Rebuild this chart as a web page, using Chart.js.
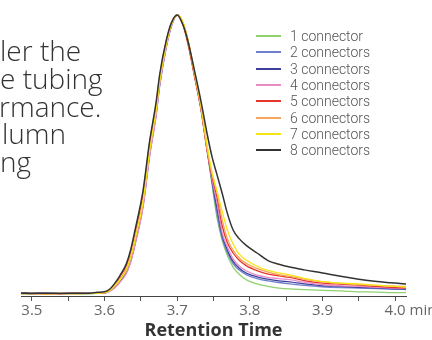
<!DOCTYPE html>
<html><head><meta charset="utf-8">
<script src="https://cdn.jsdelivr.net/npm/chart.js@4"></script>
<style>
html,body{margin:0;padding:0;background:#fff;}
#wrap{position:relative;width:432px;height:340px;overflow:hidden;background:#fff;}
canvas{position:absolute;left:0;top:0;}
#para{position:absolute;left:0;top:37px;font-family:'Open Sans',Roboto,sans-serif;font-weight:300;font-size:28px;line-height:27.8px;color:#333;white-space:pre;}
#legend{position:absolute;left:256px;top:28px;font-family:Roboto,'Liberation Sans',sans-serif;font-weight:300;font-size:14px;color:#555;}
.row{height:16.3px;display:flex;align-items:center;white-space:nowrap;}
.sw{width:25px;height:2px;margin-right:9px;flex:none;}
</style>
</head><body>
<div id="wrap">
<canvas id="c" width="432" height="340"></canvas>
<div id="para"></div>
<div id="legend"></div>
</div>
<script>
// ---- data ----
const paragraphLines = ['ler the', 'e tubing', 'rmance.', 'lumn', 'ng'];
const paragraphIndent = [0, 0, -1, 2, 0];

const seriesNames = ['1 connector','2 connectors','3 connectors','4 connectors','5 connectors','6 connectors','7 connectors','8 connectors'];
const seriesColors = ['#8fd26e','#6f80cc','#3e3f9c','#e88bc6','#e8352b','#f8a55e','#f5e514','#333333'];

const tickValues = [3.5, 3.55, 3.6, 3.65, 3.7, 3.75, 3.8, 3.85, 3.9, 3.95, 4.0];
const tickLabels = ['3.5', '', '3.6', '', '3.7', '', '3.8', '', '3.9', '', '4.0'];
const axisTitle = 'Retention Time';
const axisUnit = 'min';

const times = [3.485,3.50,3.52,3.54,3.56,3.58,3.59,3.60,3.607,3.614,3.621,3.63,3.636,3.642,3.653,3.662,3.671,3.676,3.685,3.692,3.70,3.708,3.715,3.724,3.733,3.741,3.748,3.755,3.762,3.769,3.777,3.785,3.795,3.81,3.825,3.84,3.855,3.875,3.90,3.925,3.95,3.975,4.00,4.015];

const conn1 = [0.7,0.8,0.7,0.8,0.7,0.8,0.9,1.1, 2.0,3.7,5.8,9.5,14,20.5,34,52,66.5,76.5,89.5,96.5,100,96.8,90,78,66,52, 39.5,27.5,19.7,14.5,10.3,7.8,5.8,4.3,3.4,2.8,2.5,2.3,2.0,1.8,1.5,1.4,1.2,1.2];
const conn2 = [1.0,1.0,0.9,0.9,0.9,1.0,1.0,1.1, 1.7,3.0,5.0,8.2,12.3,18.5,32,50,64.5,75,88.5,96,100,97,90.5,78.5,66.5,52.5, 40.5,29,20.5,15.5,11.5,9.3,7.6,6.2,5.4,4.8,4.3,3.8,3.3,3.0,2.8,2.6,2.4,2.3];
const conn3 = [1.1,1.0,1.0,0.9,1.0,0.9,1.0,1.1, 1.8,3.2,5.2,8.5,12.6,19,32.5,50.5,65,75.5,89,96.2,100,97,90.5,78.5,66.5,52.5, 41,31,21.5,16.5,12.3,10,8.2,6.8,6.0,5.4,5.0,4.3,3.7,3.4,3.1,2.9,2.6,2.5];
const conn4 = [0.8,0.9,0.8,0.8,0.8,0.9,0.9,1.0, 1.6,2.9,4.8,8.0,12.0,18.2,31.5,49.5,64,75,88.5,96,100,97.2,91,79,67,53, 41.5,33,22.5,17.5,13.2,10.8,9.0,7.4,6.6,6.2,5.8,4.9,4.0,3.6,3.4,3.1,2.8,2.7];
const conn5 = [0.9,0.9,0.8,0.9,0.9,0.9,1.0,1.3, 2.3,4.3,6.8,10.8,15.5,22.5,36,54,68,78,90.5,97,100,96.3,89.5,78,66,52, 42.5,35,25,19,15.3,12.8,10.8,9.0,7.8,7.2,6.6,5.5,4.6,4.2,3.9,3.4,3.0,2.8];
const conn6 = [0.9,0.8,0.9,0.8,0.9,0.9,1.1,1.3, 2.1,3.9,6.0,9.8,14.3,21,34.5,52.5,67,77,90,96.7,100,97,90.5,78.5,66.5,52.5, 43.5,36.5,27,20.5,16.3,13.6,11.6,9.8,8.5,7.6,7.0,6.0,5.0,4.5,4.1,3.8,3.5,3.4];
const conn7 = [0.8,0.9,0.8,0.9,0.8,0.9,1.0,1.2, 1.9,3.6,5.6,9.2,13.6,20,33.5,51.5,66,76.5,89.5,96.5,100,97.5,91,79.5,67.5,54, 44,37,30,23.5,18.5,15,12.8,10.6,9.1,8.2,7.5,6.3,5.1,4.6,4.3,3.8,3.4,3.2];
const conn8 = [1.0,0.9,1.0,0.9,1.0,1.0,1.3,1.5, 2.4,4.5,7.2,11.5,16.5,23.5,37.5,55,69,79,91,97.2,100,96.5,90.5,80,69,58, 49.5,43,36.5,29.5,23.5,20.5,18,15.3,12.6,11.3,10.3,9.3,8.2,7.0,6.0,5.2,4.6,4.3];

const seriesValues = [conn1, conn2, conn3, conn4, conn5, conn6, conn7, conn8];

// ---- paragraph & legend (HTML text) ----
const para = document.getElementById('para');
paragraphLines.forEach((t, i) => {
  const d = document.createElement('div');
  d.textContent = t;
  d.style.marginLeft = paragraphIndent[i] + 'px';
  para.appendChild(d);
});
const legend = document.getElementById('legend');
seriesNames.forEach((n, i) => {
  const r = document.createElement('div'); r.className = 'row';
  const s = document.createElement('div'); s.className = 'sw'; s.style.background = seriesColors[i];
  const t = document.createElement('span'); t.textContent = n;
  r.appendChild(s); r.appendChild(t); legend.appendChild(r);
});

// ---- chart ----
const TICK_LEN = 5, TICK_PAD = 1, TICK_SIZE = 15;
const FONT = '"Open Sans", Roboto, sans-serif';
const unitPlugin = {
  id: 'unit',
  afterDraw(chart) {
    const s = chart.scales.x, c = chart.ctx;
    c.save();
    c.font = '400 ' + TICK_SIZE + 'px ' + FONT;
    c.fillStyle = '#666';
    c.textBaseline = 'middle';
    c.textAlign = 'left';
    const last = tickValues[tickValues.length - 1];
    const x = s.getPixelForValue(last) + c.measureText(tickLabels[tickLabels.length - 1]).width / 2 + c.measureText(' ').width;
    c.fillText(axisUnit, x, s.top + TICK_LEN + TICK_PAD + TICK_SIZE * 1.2 / 2);
    c.restore();
  }
};

new Chart(document.getElementById('c'), {
  type: 'line',
  data: {
    datasets: seriesValues.map((vals, i) => ({
      label: seriesNames[i],
      data: times.map((t, k) => ({ x: t, y: vals[k] })),
      borderColor: seriesColors[i],
      backgroundColor: seriesColors[i],
      borderWidth: i === 7 ? 1.5 : 1.3,
      pointRadius: 0,
      fill: false,
      cubicInterpolationMode: 'monotone',
      order: 8 - i,
      clip: false
    }))
  },
  options: {
    responsive: false,
    animation: false,
    devicePixelRatio: 1,
    layout: { padding: { left: 21, right: 26, top: 15, bottom: 0 } },
    plugins: { legend: { display: false }, tooltip: { enabled: false } },
    scales: {
      x: {
        type: 'linear', min: 3.485, max: 4.015,
        afterBuildTicks: s => { s.ticks = tickValues.map(v => ({ value: v })); },
        afterFit: s => { s.height = 44; },
        grid: { drawOnChartArea: false, drawTicks: true, tickLength: TICK_LEN, color: '#555', lineWidth: 1 },
        border: { display: true, color: '#444', width: 1 },
        ticks: {
          autoSkip: false, maxRotation: 0, padding: TICK_PAD, color: '#666',
          font: { family: FONT, size: TICK_SIZE, weight: '400' },
          callback: (v, i) => tickLabels[i]
        },
        title: {
          display: true, text: axisTitle, color: '#333',
          font: { family: FONT, size: 18, weight: 'bold', lineHeight: 1 },
          padding: { top: 0, bottom: 0 }
        }
      },
      y: { display: false, min: 0, max: 100 }
    }
  },
  plugins: [unitPlugin]
});
</script>
</body></html>
